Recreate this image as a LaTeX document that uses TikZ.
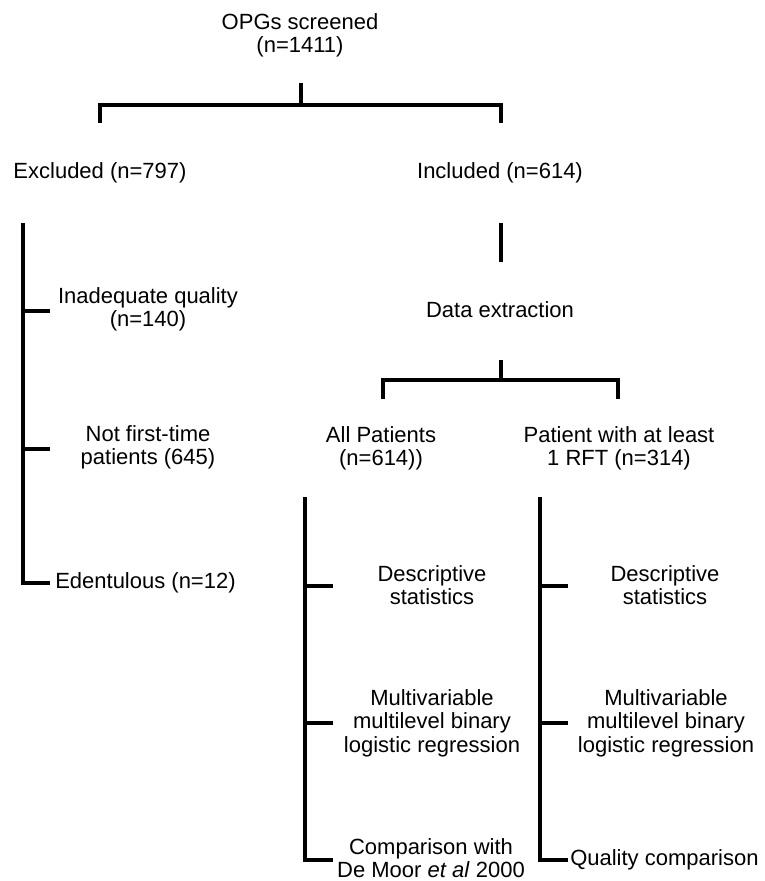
\documentclass[tikz,border=0pt]{standalone}
\usepackage{fontspec}
\setmainfont{Liberation Sans}
\usepackage{tikz}

\begin{document}
\begin{tikzpicture}[x=0.75pt, y=-0.75pt,
        txt/.style={align=center, inner sep=0pt, font=\fontsize{16.5}{17.5}\selectfont},
        ln/.style={line width=2.6pt}]
            \useasboundingbox (0, 0) rectangle (764, 881);

            \node[txt] (opg) at (300, 35) {OPGs screened\\(n=1411)};
            \node[txt] (excl) at (100, 173) {Excluded (n=797)};
            \node[txt] (incl) at (500, 173) {Included (n=614)};
            \node[txt] (inad) at (148, 309) {Inadequate quality\\(n=140)};
            \node[txt] (notfirst) at (148, 447) {Not first-time\\patients (645)};
            \node[txt, anchor=west] (edent) at (55, 583) {Edentulous (n=12)};
            \node[txt] (dataex) at (500, 310) {Data extraction};
            \node[txt] (allp) at (381, 448) {All Patients\\(n=614))};
            \node[txt] (rft) at (619, 448) {Patient with at least\\1 RFT (n=314)};
            \node[txt] (descA) at (432, 585) {Descriptive\\statistics};
            \node[txt] (descB) at (665, 585) {Descriptive\\statistics};
            \node[txt] (multiA) at (432, 723) {Multivariable\\multilevel binary\\logistic regression};
            \node[txt] (multiB) at (666, 723) {Multivariable\\multilevel binary\\logistic regression};
            \node[txt] (compA) at (431, 858) {Comparison with\\De Moor \textit{et al} 2000};
            \node[txt, anchor=west] (qualB) at (570, 860) {Quality comparison};

            \coordinate (s0) at (301, 83);
            \coordinate (j0) at (301, 105);
            \coordinate (e0) at (100, 123);
            \coordinate (i0) at (501, 123);
            \coordinate (xt) at (23, 223);
            \coordinate (x1) at (50, 311);
            \coordinate (x2) at (50, 449);
            \coordinate (x3) at (50, 583);
            \coordinate (it) at (501, 223);
            \coordinate (ib) at (501, 262);
            \coordinate (s1) at (501, 360);
            \coordinate (j1) at (501, 380);
            \coordinate (a0) at (383, 399);
            \coordinate (r0) at (618, 399);
            \coordinate (at) at (305, 497);
            \coordinate (a1) at (333, 586);
            \coordinate (a2) at (333, 723);
            \coordinate (a3) at (333, 860);
            \coordinate (rt) at (540, 497);
            \coordinate (r1) at (568, 586);
            \coordinate (r2) at (568, 723);
            \coordinate (r3) at (568, 860);

            \path [ln] (s0) edge (j0);
            \draw [ln] (e0) |- (j0) -| (i0);

            \draw [ln] (xt) |- (x3);
            \path [ln] (xt |- x1) edge (x1);
            \path [ln] (xt |- x2) edge (x2);

            \path [ln] (it) edge (ib);
            \path [ln] (s1) edge (j1);
            \draw [ln] (a0) |- (j1) -| (r0);

            \draw [ln] (at) |- (a3);
            \path [ln] (at |- a1) edge (a1);
            \path [ln] (at |- a2) edge (a2);

            \draw [ln] (rt) |- (r3);
            \path [ln] (rt |- r1) edge (r1);
            \path [ln] (rt |- r2) edge (r2);
        \end{tikzpicture}
\end{document}
